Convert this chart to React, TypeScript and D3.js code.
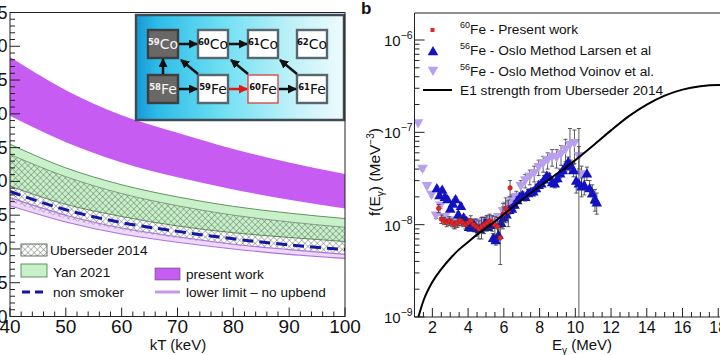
import React from "react";
import * as d3 from "d3";

// ---------------- Panel a (left) data ----------------
const kT = [40, 50, 60, 70, 80, 90, 100];
const presentUpper = [38.4, 33.5, 29.8, 27.2, 24.8, 22.8, 21.1];
const presentLower = [29.7, 25.8, 22.8, 20.6, 18.8, 17.3, 16.0];
const yanUpper = [25.5, 22.0, 19.5, 17.7, 16.3, 15.3, 14.5];
const yanLower = [19.3, 16.6, 14.8, 13.4, 12.4, 11.7, 11.1];
const ubersederUpper = [24.0, 20.7, 18.2, 16.4, 15.0, 14.0, 13.2];
const ubersederLower = [17.0, 14.5, 12.8, 11.6, 10.6, 9.9, 9.3];
const nonSmoker = [18.5, 15.8, 13.9, 12.6, 11.5, 10.6, 9.9];
const noUpbendUpper = [17.6, 15.0, 13.1, 11.8, 10.7, 9.9, 9.2];
const noUpbendLower = [16.4, 14.0, 12.2, 11.0, 10.0, 9.2, 8.6];
const kTTicks = [40, 50, 60, 70, 80, 90, 100];
const sigmaTicks = [0, 5, 10, 15, 20, 25, 30, 35, 40, 45];

const leftLegend = ["Uberseder 2014", "Yan 2021", "non smoker", "present work", "lower limit – no upbend"];

// inset chart of nuclides
const insetTop = [
  { a: "59", el: "Co", dark: true },
  { a: "60", el: "Co", dark: false },
  { a: "61", el: "Co", dark: false },
  { a: "62", el: "Co", dark: false },
];
const insetBottom = [
  { a: "58", el: "Fe", dark: true },
  { a: "59", el: "Fe", dark: false },
  { a: "60", el: "Fe", dark: false, red: true },
  { a: "61", el: "Fe", dark: false },
];

// ---------------- Panel b (right) data ----------------
// energies in MeV, strengths in units of 1e-8 MeV^-3
const e1Energy = [1.15, 1.5, 2, 2.5, 3, 3.5, 4, 4.5, 5, 5.5, 6, 6.5, 7, 7.5, 8, 8.5, 9, 9.5, 10, 11, 12, 13, 14, 15, 16, 17, 18, 19, 20];
const e1Strength = [0.09, 0.15, 0.24, 0.33, 0.43, 0.54, 0.65, 0.78, 0.92, 1.08, 1.3, 1.55, 1.85, 2.2, 2.6, 3.05, 3.6, 4.2, 5.0, 7.2, 10.5, 15.0, 20.0, 25.0, 29.0, 31.5, 32.5, 32.0, 30.0];

const fe60Energy = [2.35, 2.5, 2.65, 2.8, 2.95, 3.1, 3.25, 3.4, 3.55, 3.7, 3.85, 4.0, 4.15, 4.3, 4.45, 4.6, 4.75, 4.9, 5.05, 5.2, 5.35, 5.5, 5.65, 5.8, 5.95, 6.1, 6.25, 6.35];
const fe60Strength = [1.5, 1.15, 1.1, 1.05, 1.1, 1.05, 1.0, 1.05, 1.1, 1.05, 1.0, 1.05, 1.1, 1.0, 0.95, 0.9, 0.95, 1.0, 1.05, 1.1, 1.05, 1.0, 0.95, 0.72, 1.3, 1.5, 1.4, 2.5];
const fe60Error = [0.15, 0.12, 0.1, 0.1, 0.12, 0.1, 0.1, 0.12, 0.12, 0.1, 0.1, 0.12, 0.15, 0.15, 0.2, 0.2, 0.25, 0.2, 0.2, 0.2, 0.2, 0.22, 0.25, 0.35, 0.4, 0.45, 0.45, 0.5];

const larsenEnergy = [2.25, 2.4, 2.55, 2.7, 2.85, 3.0, 3.15, 3.3, 3.45, 3.6, 3.75, 3.9, 4.05, 4.2, 4.35, 4.5, 4.65, 4.8, 4.95, 5.1, 5.25, 5.4, 5.55, 5.7, 5.85, 6.0, 6.15, 6.3, 6.45, 6.6, 6.75, 6.9, 7.05, 7.2, 7.35, 7.5, 7.65, 7.8, 7.95, 8.1, 8.25, 8.4, 8.55, 8.7, 8.85, 9.0, 9.15, 9.3, 9.45, 9.6, 9.75, 9.9, 10.05, 10.2, 10.35, 10.5, 10.65, 10.8, 10.95, 11.1, 11.2];
const larsenStrength = [2.5, 2.1, 2.4, 2.0, 1.9, 1.5, 1.7, 1.9, 1.3, 1.6, 1.2, 1.1, 0.95, 0.93, 1.0, 0.92, 0.9, 0.95, 1.05, 0.95, 1.0, 0.72, 0.68, 0.78, 1.05, 1.2, 1.3, 1.45, 1.5, 1.65, 1.85, 2.0, 2.1, 2.0, 2.2, 2.25, 2.3, 2.5, 2.7, 2.8, 3.1, 3.4, 3.3, 2.9, 2.8, 3.2, 3.6, 3.9, 4.3, 4.8, 4.4, 3.9, 3.0, 2.8, 2.6, 2.7, 3.6, 2.5, 2.2, 1.9, 1.75];
const larsenError = [0.1, 0.1, 0.1, 0.1, 0.1, 0.08, 0.08, 0.1, 0.08, 0.1, 0.08, 0.08, 0.06, 0.06, 0.07, 0.06, 0.06, 0.07, 0.08, 0.08, 0.1, 0.08, 0.08, 0.1, 0.12, 0.12, 0.12, 0.15, 0.15, 0.15, 0.15, 0.2, 0.2, 0.2, 0.2, 0.2, 0.22, 0.25, 0.25, 0.25, 0.3, 0.3, 0.3, 0.3, 0.3, 0.35, 0.4, 0.45, 0.5, 0.6, 0.6, 0.6, 0.8, 8.2, 0.6, 0.6, 0.6, 0.5, 0.5, 0.5, 0.45];

const voinovEnergy = [1.2, 1.45, 1.7, 1.95, 2.2, 2.45, 2.7, 2.95, 3.2, 3.45, 3.7, 3.95, 4.2, 4.45, 4.7, 4.95, 5.2, 5.45, 5.7, 5.95, 6.2, 6.45, 6.7, 6.95, 7.2, 7.45, 7.7, 7.95, 8.2, 8.45, 8.7, 8.95, 9.2, 9.45, 9.7, 9.95, 10.2, 10.35];
const voinovStrength = [12.5, 4.0, 2.6, 2.1, 1.25, 1.6, 1.2, 1.1, 1.0, 1.05, 1.1, 1.0, 1.05, 0.95, 1.05, 1.1, 1.15, 1.05, 1.2, 1.4, 1.6, 1.85, 2.0, 2.6, 3.0, 3.3, 3.6, 4.2, 4.6, 5.0, 5.4, 5.3, 5.8, 6.5, 7.3, 7.6, 5.5, 3.5];
const voinovError = [0.3, 0.15, 0.1, 0.1, 0.08, 0.1, 0.08, 0.08, 0.08, 0.08, 0.08, 0.08, 0.08, 0.08, 0.1, 0.1, 0.1, 0.1, 0.12, 0.15, 0.2, 0.25, 0.3, 0.4, 0.5, 0.6, 0.7, 0.8, 0.9, 1.0, 1.1, 1.2, 1.4, 1.9, 3.7, 3.0, 1.5, 0.8];

const energyTicks = [2, 4, 6, 8, 10, 12, 14, 16, 18];
const decadeTicks = [-9, -8, -7, -6];
const rightLegend = ["Fe - Present work", "Fe - Oslo Method Larsen et al", "Fe - Oslo Method Voinov et al.", "E1 strength from Uberseder 2014"];
const rightLegendMass = ["60", "56", "56", ""];

const FONT = "'Liberation Sans', Arial, Helvetica, sans-serif";

export default function App() {
  // ---- scales panel a ----
  const lx = d3.scaleLinear().domain([40, 100]).range([10, 345]);
  const ly = d3.scaleLinear().domain([0, 45]).range([316.5, 12.5]);
  const pts = kT.map((k, i) => i);
  const band = (up: number[], lo: number[]) =>
    d3.area<number>().x((i) => lx(kT[i])).y0((i) => ly(lo[i])).y1((i) => ly(up[i])).curve(d3.curveMonotoneX)(pts) || "";
  const line = (v: number[]) =>
    d3.line<number>().x((i) => lx(kT[i])).y((i) => ly(v[i])).curve(d3.curveMonotoneX)(pts) || "";

  // ---- scales panel b ----
  const rx = d3.scaleLinear().domain([1, 20]).range([414.5, 754]);
  const topLog = -6 + 27 / 92.33;
  const ry = d3.scaleLog().domain([1e-9, Math.pow(10, topLog)]).range([317, 13]);
  const yBottom = 317;
  const clampY = (v: number) => (v <= 1e-9 ? yBottom : Math.max(13, ry(v)));

  const e1Path =
    d3.line<number>().x((i) => rx(e1Energy[i])).y((i) => ry(e1Strength[i] * 1e-8)).curve(d3.curveMonotoneX)(e1Energy.map((_, i) => i)) || "";

  const errorBars = (E: number[], F: number[], Er: number[], key: string) =>
    E.map((e, i) => {
      const x = rx(e);
      const hi = (F[i] + Er[i]) * 1e-8;
      const lo = (F[i] - Er[i]) * 1e-8;
      const yh = clampY(hi);
      const yl = lo > 1e-9 ? ry(lo) : yBottom;
      return (
        <g key={key + i} stroke="#333" strokeWidth={0.8}>
          <line x1={x} x2={x} y1={yh} y2={yl} />
          <line x1={x - 2} x2={x + 2} y1={yh} y2={yh} />
          {lo > 1e-9 && <line x1={x - 2} x2={x + 2} y1={yl} y2={yl} />}
        </g>
      );
    });

  const triUp = (cx: number, cy: number, s = 5.3) => `M${cx - s},${cy + s * 0.8} L${cx + s},${cy + s * 0.8} L${cx},${cy - s * 0.95} Z`;
  const triDown = (cx: number, cy: number, s = 5.3) => `M${cx - s},${cy - s * 0.8} L${cx + s},${cy - s * 0.8} L${cx},${cy + s * 0.95} Z`;

  // ticks
  const lxMinor = d3.range(40, 100.01, 2);
  const lyMinor = d3.range(0, 45.01, 1);
  const rxMinor = d3.range(1, 20.01, 0.5);
  const ryMinor: number[] = [];
  for (let d = -9; d < -5; d++) for (let m = 1; m < 10; m++) {
    const v = m * Math.pow(10, d);
    if (Math.log10(v) <= topLog) ryMinor.push(v);
  }

  // inset geometry
  const cellX = [148, 198, 248, 297];
  const rowY = [30, 75];
  const cw = 30, ch = 28;

  const purple = "#c65cf2";

  return (
    <svg width={720} height={355} style={{ position: "absolute", left: 0, top: 0, background: "#fff" }} fontFamily={FONT}>
      <defs>
        <pattern id="xhatch" width={4.4} height={4.4} patternUnits="userSpaceOnUse" patternTransform="rotate(45)">
          <line x1={0} y1={0} x2={0} y2={4.4} stroke="#4a5a4d" strokeWidth={0.75} />
          <line x1={0} y1={0} x2={4.4} y2={0} stroke="#4a5a4d" strokeWidth={0.75} />
        </pattern>
        <linearGradient id="insetGrad" x1="0" x2="1" y1="0" y2="0">
          <stop offset="0" stopColor="#1898d4" />
          <stop offset="0.1" stopColor="#2cbbe8" />
          <stop offset="0.42" stopColor="#70e0f3" />
          <stop offset="0.75" stopColor="#bff1f8" />
          <stop offset="1" stopColor="#f0fbfd" />
        </linearGradient>
        <marker id="arrB" markerWidth={9} markerHeight={9} refX={8} refY={4.5} orient="auto" markerUnits="userSpaceOnUse">
          <path d="M0,0 L9,4.5 L0,9 Z" fill="#111" />
        </marker>
        <marker id="arrR" markerWidth={9} markerHeight={9} refX={8} refY={4.5} orient="auto" markerUnits="userSpaceOnUse">
          <path d="M0,0 L9,4.5 L0,9 Z" fill="#e01818" />
        </marker>
        <clipPath id="clipL">
          <rect x={10} y={12.5} width={335} height={304} />
        </clipPath>
        <clipPath id="clipR">
          <rect x={414.5} y={13} width={330} height={304} />
        </clipPath>
      </defs>

      {/* ================= Panel a ================= */}
      <g clipPath="url(#clipL)">
        <path d={band(presentUpper, presentLower)} fill={purple} />
        <path d={band(yanUpper, yanLower)} fill="#c9f1c9" />
        <path d={line(yanUpper)} fill="none" stroke="#3d7a3d" strokeWidth={0.8} />
        <path d={line(yanLower)} fill="none" stroke="#3d7a3d" strokeWidth={0.8} />
        <path d={band(ubersederUpper, ubersederLower)} fill="url(#xhatch)" />
        <path d={line(ubersederUpper)} fill="none" stroke="#5a6a5a" strokeWidth={0.6} />
        <path d={band(noUpbendUpper, noUpbendLower)} fill="rgba(200,150,235,0.35)" />
        <path d={line(noUpbendUpper)} fill="none" stroke="#b070e0" strokeWidth={1.1} />
        <path d={line(noUpbendLower)} fill="none" stroke="#b070e0" strokeWidth={1.1} />
        <path d={line(nonSmoker)} fill="none" stroke="#1616a6" strokeWidth={3} strokeDasharray="11 6" />
      </g>

      {/* inset */}
      <g>
        <rect x={136} y={15} width={208} height={105} fill="url(#insetGrad)" stroke="#3d4d57" strokeWidth={2.5} />
        {[insetTop, insetBottom].map((row, r) =>
          row.map((c, i) => (
            <g key={`c${r}${i}`}>
              <rect
                x={cellX[i]}
                y={rowY[r]}
                width={cw}
                height={ch}
                fill={c.dark ? "#6a6767" : "#ffffff"}
                stroke={(c as any).red ? "#d84a4a" : c.dark ? "#3e3e3e" : "#56676e"}
                strokeWidth={(c as any).red ? 1.4 : 2.4}
              />
              <text x={cellX[i] + cw / 2} y={rowY[r] + ch / 2 + 5} textAnchor="middle" fontFamily="'DejaVu Sans', sans-serif" fill={c.dark ? "#f4f4f4" : "#111"}>
                <tspan fontSize={8.5} fontWeight="bold" dy={-4}>{c.a}</tspan>
                <tspan fontSize={14} dy={4}>{c.el}</tspan>
              </text>
            </g>
          ))
        )}
        {/* horizontal arrows */}
        <line x1={179} y1={44} x2={197} y2={44} stroke="#111" strokeWidth={2.5} markerEnd="url(#arrB)" />
        <line x1={229} y1={44} x2={247} y2={44} stroke="#111" strokeWidth={2.5} markerEnd="url(#arrB)" />
        <line x1={179} y1={89} x2={197} y2={89} stroke="#111" strokeWidth={2.5} markerEnd="url(#arrB)" />
        <line x1={229} y1={89} x2={247} y2={89} stroke="#e01818" strokeWidth={2.5} markerEnd="url(#arrR)" />
        <line x1={279} y1={89} x2={296} y2={89} stroke="#111" strokeWidth={2.5} markerEnd="url(#arrB)" />
        {/* vertical */}
        <line x1={163} y1={74} x2={163} y2={59} stroke="#111" strokeWidth={2.5} markerEnd="url(#arrB)" />
        {/* diagonals */}
        <line x1={198} y1={74} x2={181} y2={60} stroke="#111" strokeWidth={2.5} markerEnd="url(#arrB)" />
        <line x1={248} y1={74} x2={231} y2={60} stroke="#111" strokeWidth={2.5} markerEnd="url(#arrB)" />
        <line x1={297} y1={74} x2={280} y2={60} stroke="#111" strokeWidth={2.5} markerEnd="url(#arrB)" />
      </g>

      {/* legend panel a */}
      <g fontSize={13.6} fill="#111">
        <rect x={21} y={244} width={26} height={12} fill="url(#xhatch)" stroke="#444" strokeWidth={0.8} />
        <text x={50} y={255}>{leftLegend[0]}</text>
        <rect x={21} y={264} width={26} height={13} fill="#c9f1c9" stroke="#3d7a3d" strokeWidth={0.8} />
        <text x={53} y={277}>{leftLegend[1]}</text>
        <line x1={22} x2={47} y1={292} y2={292} stroke="#1616a6" strokeWidth={3} strokeDasharray="8 5" />
        <text x={53} y={297}>{leftLegend[2]}</text>
        <rect x={155} y={268} width={25} height={12} fill={purple} stroke="#555" strokeWidth={0.6} />
        <text x={186} y={279}>{leftLegend[3]}</text>
        <line x1={155} x2={180} y1={292} y2={292} stroke="#c49ae8" strokeWidth={3} />
        <text x={186} y={297}>{leftLegend[4]}</text>
      </g>

      {/* axes panel a */}
      <g stroke="#222" strokeWidth={1}>
        <rect x={10} y={12.5} width={335} height={304} fill="none" />
        {lxMinor.map((v) => {
          const major = Math.abs(v % 10) < 1e-6;
          return <line key={"lx" + v} x1={lx(v)} x2={lx(v)} y1={316.5} y2={316.5 - (major ? 9 : 5)} />;
        })}
        {lyMinor.map((v) => {
          const major = Math.abs(v % 5) < 1e-6;
          return <line key={"ly" + v} x1={10} x2={10 + (major ? 10 : 5)} y1={ly(v)} y2={ly(v)} />;
        })}
      </g>
      <g fontSize={18} fill="#111">
        {sigmaTicks.map((v) => (
          <text key={"lyt" + v} x={7.5} y={ly(v) + 6} textAnchor="end">{v}</text>
        ))}
        {kTTicks.map((v) => (
          <text key={"lxt" + v} x={lx(v)} y={333} textAnchor="middle" fontSize={19}>{v}</text>
        ))}
      </g>
      <text x={178} y={350} textAnchor="middle" fontSize={15} fill="#111">kT (keV)</text>

      {/* ================= Panel b ================= */}
      <text x={361} y={14} fontSize={17} fontWeight="bold" fill="#111">b</text>

      <g clipPath="url(#clipR)">
        {errorBars(voinovEnergy, voinovStrength, voinovError, "ve")}
        {voinovEnergy.map((e, i) => (
          <path key={"vm" + i} d={triDown(rx(e), ry(voinovStrength[i] * 1e-8))} fill="#b9a0ef" />
        ))}
        {errorBars(larsenEnergy, larsenStrength, larsenError, "le")}
        {larsenEnergy.map((e, i) => (
          <path key={"lm" + i} d={triUp(rx(e), ry(larsenStrength[i] * 1e-8))} fill="#1212c4" />
        ))}
        {errorBars(fe60Energy, fe60Strength, fe60Error, "fe")}
        {fe60Energy.map((e, i) => (
          <circle key={"fm" + i} cx={rx(e)} cy={ry(fe60Strength[i] * 1e-8)} r={2.3} fill="#e0262a" stroke="#b01515" strokeWidth={0.5} />
        ))}
        <path d={e1Path} fill="none" stroke="#000" strokeWidth={2} />
      </g>

      {/* legend panel b */}
      <g fontSize={13.7} fill="#111">
        <rect x={430.5} y={28} width={4} height={4} fill="#e0262a" />
        <path d={triUp(433, 51)} fill="#1212c4" />
        <path d={triDown(433, 71)} fill="#b9a0ef" />
        <line x1={423} x2={452} y1={90} y2={90} stroke="#000" strokeWidth={2} />
        {rightLegend.map((t, i) => (
          <text key={"rl" + i} x={460} y={[34, 55, 76, 95][i]}>
            {rightLegendMass[i] && <tspan fontSize={9} dy={-6}>{rightLegendMass[i]}</tspan>}
            <tspan dy={rightLegendMass[i] ? 6 : 0}>{t}</tspan>
          </text>
        ))}
      </g>

      {/* axes panel b */}
      <g stroke="#222" strokeWidth={1}>
        <line x1={414.5} x2={414.5} y1={13} y2={317} />
        <line x1={414.5} x2={720} y1={317} y2={317} />
        <line x1={414.5} x2={720} y1={13} y2={13} />
        {rxMinor.map((v) => {
          const major = Math.abs(v % 2) < 1e-6;
          return <line key={"rx" + v} x1={rx(v)} x2={rx(v)} y1={317} y2={317 - (major ? 9 : 5)} />;
        })}
        {ryMinor.map((v, i) => {
          const major = Math.abs(Math.log10(v) - Math.round(Math.log10(v))) < 1e-6;
          return <line key={"ry" + i} x1={414.5} x2={414.5 + (major ? 10 : 5)} y1={ry(v)} y2={ry(v)} />;
        })}
      </g>
      <g fill="#111">
        {decadeTicks.map((d) => (
          <text key={"ryt" + d} x={384} y={ry(Math.pow(10, d)) + 6} fontSize={15}>
            10<tspan fontSize={10.5} dy={-7}>{"−" + Math.abs(d)}</tspan>
          </text>
        ))}
        {energyTicks.map((v) => (
          <text key={"rxt" + v} x={rx(v)} y={333} textAnchor="middle" fontSize={16}>{v}</text>
        ))}
      </g>
      <text x={582} y={350} textAnchor="middle" fontSize={15} fill="#111">
        E<tspan fontSize={10} dy={4}>γ</tspan><tspan dy={-4}> (MeV)</tspan>
      </text>
      <text transform="translate(380,172) rotate(-90)" textAnchor="middle" fontSize={15.5} fill="#111">
        f(E<tspan fontSize={10} dy={4}>γ</tspan><tspan dy={-4}>) (MeV</tspan><tspan fontSize={10} dy={-6}>−3</tspan><tspan dy={6}>)</tspan>
      </text>
    </svg>
  );
}
